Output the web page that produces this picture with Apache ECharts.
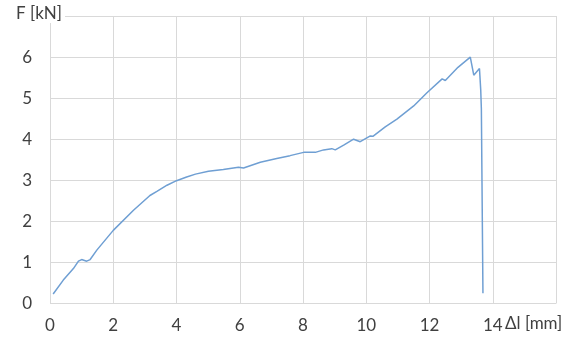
<!DOCTYPE html>
<html>
<head>
<meta charset="utf-8">
<script src="https://cdn.jsdelivr.net/npm/echarts@6/dist/echarts.min.js"></script>
<style>html,body{margin:0;padding:0;background:#fff}#c{width:574px;height:338px}</style>
</head>
<body>
<div id="c"></div>
<script>
// Elongation [mm]
var elongation = [0.10, 0.42, 0.74, 0.90, 1.00, 1.16, 1.27, 1.48, 1.53, 2.00, 2.64, 3.16, 3.38, 3.70, 4.00, 4.32, 4.60, 5.01, 5.48, 5.96, 6.12, 6.65, 7.17, 7.59, 8.02, 8.39, 8.65, 8.91, 9.02, 9.30, 9.60, 9.81, 10.13, 10.21, 10.60, 10.97, 11.50, 11.92, 12.40, 12.50, 12.90, 13.29, 13.40, 13.58, 13.62, 13.64, 13.69];
// Force [kN]
var force = [0.23, 0.57, 0.85, 1.03, 1.07, 1.03, 1.07, 1.30, 1.34, 1.78, 2.27, 2.63, 2.73, 2.88, 2.99, 3.08, 3.15, 3.22, 3.26, 3.32, 3.30, 3.44, 3.53, 3.60, 3.68, 3.68, 3.74, 3.77, 3.74, 3.86, 4.00, 3.94, 4.08, 4.07, 4.30, 4.49, 4.81, 5.13, 5.47, 5.43, 5.75, 6.00, 5.56, 5.72, 5.20, 4.74, 0.25];
var xTicks = [0, 2, 4, 6, 8, 10, 12, 14];
var yTicks = [0, 1, 2, 3, 4, 5, 6];

var data = elongation.map(function (x, i) { return [x, force[i]]; });
var chart = echarts.init(document.getElementById('c'), null, {renderer: 'canvas'});
var font = 'Lato, "Open Sans", sans-serif';
chart.setOption({
  animation: false,
  backgroundColor: '#fff',
  grid: {left: 50, right: 18, top: 16, bottom: 34.5, containLabel: false},
  title: [{
    text: 'F [kN]', left: 13, top: 4,
    backgroundColor: '#fff', padding: [1, 3, 1, 3],
    textStyle: {fontFamily: font, fontSize: 17, fontWeight: 'normal', color: '#404040'}
  }, {
    text: 'Δl [mm]', left: 503, top: 314,
    backgroundColor: '#fff', padding: [1, 2, 1, 2],
    textStyle: {fontFamily: font, fontSize: 17, fontWeight: 'normal', color: '#404040'}
  }],
  xAxis: {
    type: 'value', min: 0, max: 16, interval: 2,
    axisLine: {show: false}, axisTick: {show: false},
    splitLine: {show: true, lineStyle: {color: '#d9d9d9', width: 1}},
    axisLabel: {
      margin: 14, color: '#404040', fontFamily: font, fontSize: 17,
      formatter: function (v) { return xTicks.indexOf(v) >= 0 ? String(v) : ''; }
    }
  },
  yAxis: {
    type: 'value', min: 0, max: 7, interval: 1,
    axisLine: {show: false}, axisTick: {show: false},
    splitLine: {show: true, lineStyle: {color: '#d9d9d9', width: 1}},
    axisLabel: {
      margin: 18, color: '#404040', fontFamily: font, fontSize: 17,
      formatter: function (v) { return yTicks.indexOf(v) >= 0 ? String(v) : ''; }
    }
  },
  series: [{
    type: 'line', data: data, showSymbol: false, smooth: false,
    lineStyle: {color: '#6f9fd3', width: 1.5}
  }]
});
</script>
</body>
</html>
